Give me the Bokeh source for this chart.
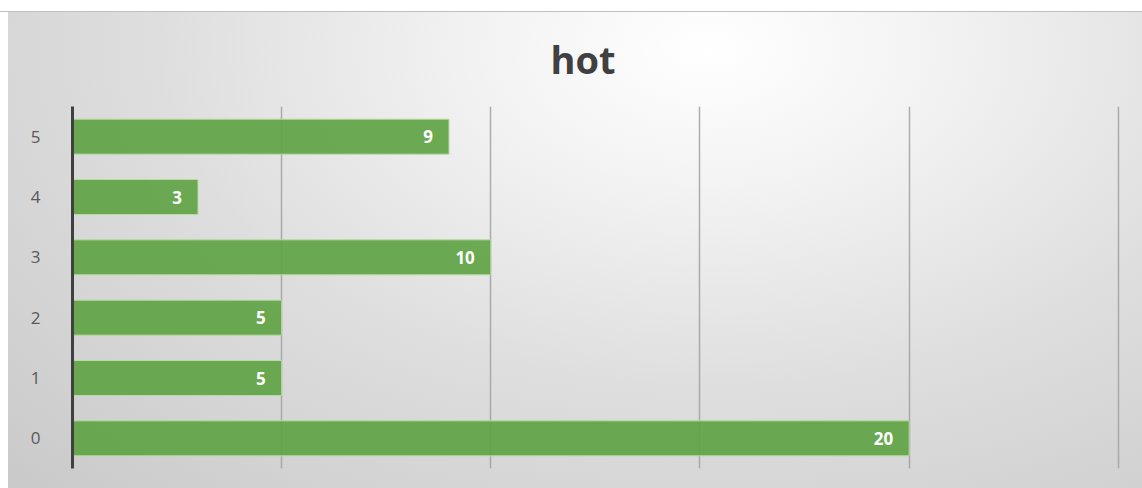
from bokeh.plotting import figure
from bokeh.models import ColumnDataSource, LabelSet, FixedTicker, Range1d, FactorRange, Title
from bokeh.core.properties import value
from bokeh.embed import file_html
from bokeh.resources import INLINE

categories = ["0", "1", "2", "3", "4", "5"]
values = [20, 5, 5, 10, 3, 9]
labels = [str(v) for v in values]
title_text = "hot"
x_ticks = [0, 5, 10, 15, 20, 25]

src = ColumnDataSource(dict(cat=categories, val=values, lbl=labels))

p = figure(width=1142, height=488,
           y_range=FactorRange(*categories),
           x_range=Range1d(0, 25.1),
           output_backend="svg", toolbar_location=None,
           min_border_left=72, min_border_right=20,
           min_border_top=106, min_border_bottom=20)

p.title = Title(text=title_text, text_font_size="38px", text_font="Open Sans",
                text_font_style="bold", text_color="#404040",
                align="left", offset=478, standoff=44)

p.border_fill_color = None
p.background_fill_color = None
p.outline_line_color = None
p.styles = {
    "background": ("linear-gradient(#ffffff,#ffffff) top left/100% 11px no-repeat, "
                   "linear-gradient(#c0c0c0,#c0c0c0) 0 11px/100% 1px no-repeat, "
                   "linear-gradient(#ffffff,#ffffff) top left/8px 100% no-repeat, "
                   "radial-gradient(ellipse farthest-corner at 62% 10%, "
                   "#ffffff 0%, #f3f3f3 22%, #dedede 55%, #c9c9c9 100%)")
}

p.hbar(y="cat", left=0, right="val", height=0.58, source=src,
       fill_color="#5fa344", fill_alpha=0.92,
       line_color="#b8dba4", line_width=1)

labs = LabelSet(x="val", y="cat", text="lbl", source=src, x_offset=-16,
                text_align="right", text_baseline="middle",
                text_color="white", text_font=value("Open Sans"),
                text_font_style="bold", text_font_size="17px")
p.add_layout(labs)

p.xaxis.visible = False
p.xgrid.ticker = FixedTicker(ticks=x_ticks)
p.xgrid.grid_line_color = "#a0a0a0"
p.xgrid.grid_line_width = 1.5
p.xgrid.grid_line_alpha = 0.85
p.ygrid.visible = False

ya = p.yaxis[0]
ya.axis_line_color = "#404040"
ya.axis_line_width = 3
ya.major_tick_line_color = None
ya.minor_tick_line_color = None
ya.major_label_text_color = "#595959"
ya.major_label_text_font = "Open Sans"
ya.major_label_text_font_size = "17px"
ya.major_label_standoff = 26

open("out.html", "w").write(file_html(p, INLINE))
